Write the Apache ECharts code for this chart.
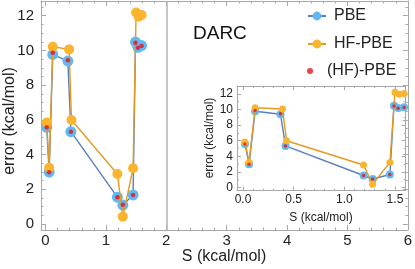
<!DOCTYPE html>
<html><head><meta charset="utf-8">
<script src="https://cdn.jsdelivr.net/npm/echarts@6/dist/echarts.min.js"></script>
<style>html,body{margin:0;padding:0;background:#fff}#c{width:415px;height:269px}</style>
</head><body><div id="c"></div>
<script>
// ---- data ----
const S_PBE  = [0.02, 0.06, 0.12, 0.37, 0.42, 1.19, 1.28, 1.45, 1.49, 1.53, 1.59];
const errPBE = [5.57, 2.98, 9.77, 9.39, 5.32, 1.54, 1.09, 1.67, 10.48, 10.18, 10.28];
const S_HF   = [0.02, 0.06, 0.12, 0.39, 0.43, 1.19, 1.28, 1.45, 1.50, 1.54, 1.59];
const errHF  = [5.84, 3.24, 10.21, 10.06, 5.99, 2.88, 0.42, 3.21, 12.19, 11.94, 12.04];
const S_HFd  = [0.02, 0.06, 0.12, 0.37, 0.42, 1.19, 1.28, 1.45, 1.49, 1.53, 1.59];
const errHFd = [5.57, 2.98, 9.87, 9.44, 5.32, 1.54, 1.10, 1.67, 10.45, 10.15, 10.25];
const seriesNames = ['PBE', 'HF-PBE', '(HF)-PBE'];
const mainXTicks  = [0, 1, 2, 3, 4, 5, 6];
const mainYTicks  = [0, 2, 4, 6, 8, 10, 12];
const insetXTicks = [0, 0.5, 1, 1.5];
const insetYTicks = [0, 2, 4, 6, 8, 10, 12];
const refLineS = [2];
const titleText = 'DARC';
const xTitle = 'S (kcal/mol)';
const yTitle = 'error (kcal/mol)';

function minors(from, to, step, majors) {
  const out = [];
  const n = Math.round((to - from) / step);
  for (let i = 0; i <= n; i++) {
    const v = Math.round((from + i * step) * 1000) / 1000;
    if (!majors.some(m => Math.abs(m - v) < 1e-6)) out.push(v);
  }
  return out;
}
const FONT = '"Liberation Sans", Arial, sans-serif';
const FRAME = '#a8a8a8';

function axes(kind, gridIndex, min, max, majors, minorVals, fmt, fontSize, margin, majLen, minLen) {
  const pos = kind === 'x' ? ['bottom', 'top'] : ['left', 'right'];
  const base = { type: 'value', gridIndex, min, max, splitLine: { show: false }, silent: true };
  const res = [];
  pos.forEach((p, k) => {
    res.push(Object.assign({}, base, {
      position: p,
      axisLine: { show: true, onZero: false, lineStyle: { color: FRAME, width: 1 } },
      axisTick: { show: true, inside: true, length: majLen, customValues: majors, lineStyle: { color: FRAME } },
      axisLabel: k === 0 ? { show: true, customValues: majors, formatter: fmt, fontSize, color: '#222', fontFamily: FONT, margin } : { show: false }
    }));
    res.push(Object.assign({}, base, {
      position: p,
      axisLine: { show: false, onZero: false },
      axisTick: { show: true, inside: true, length: minLen, customValues: minorVals, lineStyle: { color: FRAME } },
      axisLabel: { show: false }
    }));
  });
  return res;
}

const xAxes = [].concat(
  axes('x', 0, -0.075, 6, mainXTicks, minors(0, 6, 0.2, mainXTicks), v => String(v), 15, 3, 5, 2.5),
  axes('x', 1, -0.059, 1.606, insetXTicks, minors(0, 1.6, 0.1, insetXTicks), v => v.toFixed(1), 12, 3, 4, 2)
);
const yAxes = [].concat(
  axes('y', 0, -0.35, 12.85, mainYTicks, minors(0, 12.5, 0.5, mainYTicks), v => String(v), 15, 7, 5, 2.5),
  axes('y', 1, -0.41, 13.0, insetYTicks, minors(0, 13, 1, insetYTicks), v => String(v), 12, 4, 4, 2)
);

function zip(a, b) { return a.map((v, i) => [v, b[i]]); }

function seriesSet(xi, big, small, withRef) {
  const blue = {
    name: seriesNames[0], type: 'line', xAxisIndex: xi, yAxisIndex: xi,
    data: zip(S_PBE, errPBE), symbol: 'circle', symbolSize: big + 1, showSymbol: true,
    itemStyle: { color: '#62b9f2' }, lineStyle: { color: '#5b7fbd', width: 1.4 }, z: 3
  };
  if (withRef) {
    blue.markLine = {
      silent: true, symbol: ['none', 'none'], label: { show: false },
      lineStyle: { color: '#b4b4b4', width: 1.5, type: 'solid' },
      data: refLineS.map(v => ({ xAxis: v }))
    };
  }
  return [
    blue,
    {
      name: seriesNames[1], type: 'line', xAxisIndex: xi, yAxisIndex: xi,
      data: zip(S_HF, errHF), symbol: 'circle', symbolSize: big, showSymbol: true,
      itemStyle: { color: '#fbb42e' }, lineStyle: { color: '#e39a22', width: 1.4 }, z: 4
    },
    {
      name: seriesNames[2], type: 'scatter', xAxisIndex: xi, yAxisIndex: xi,
      data: zip(S_HFd, errHFd), symbol: 'circle', symbolSize: small,
      itemStyle: { color: '#e8121c' }, z: 5
    }
  ];
}

const chart = echarts.init(document.getElementById('c'), null, { renderer: 'canvas' });
chart.setOption({
  animation: false,
  backgroundColor: '#fff',
  grid: [
    { left: 41, top: 1, width: 367, height: 229, containLabel: false },
    { left: 237, top: 86, width: 168.7, height: 104.7, show: true, backgroundColor: '#fff', borderWidth: 0, containLabel: false }
  ],
  xAxis: xAxes,
  yAxis: yAxes,
  legend: [
    { data: [seriesNames[0], seriesNames[1]], orient: 'vertical', left: 307, top: 8, padding: 0,
      itemWidth: 18, itemHeight: 11, itemGap: 12, selectedMode: false,
      textStyle: { fontSize: 16, color: '#222', fontFamily: FONT, padding: [0, 0, 0, 3] } },
    { data: [seriesNames[2]], orient: 'vertical', left: 307, top: 63, padding: 0,
      itemWidth: 18, itemHeight: 6, selectedMode: false,
      textStyle: { fontSize: 16, color: '#222', fontFamily: FONT, padding: [0, 0, 0, 3] } }
  ],
  graphic: [
    { type: 'text', x: 193, y: 34, style: { text: titleText, fontSize: 19, fontFamily: FONT, fill: '#111', align: 'left', verticalAlign: 'middle' } },
    { type: 'text', x: 10, y: 121, rotation: Math.PI / 2, style: { text: yTitle, fontSize: 16, fontFamily: FONT, fill: '#222', align: 'center', verticalAlign: 'middle' } },
    { type: 'text', x: 224, y: 257, style: { text: xTitle, fontSize: 16, fontFamily: FONT, fill: '#222', align: 'center', verticalAlign: 'middle' } },
    { type: 'text', x: 210, y: 138, rotation: Math.PI / 2, style: { text: yTitle, fontSize: 12, fontFamily: FONT, fill: '#222', align: 'center', verticalAlign: 'middle' } },
    { type: 'text', x: 321, y: 218, style: { text: xTitle, fontSize: 12, fontFamily: FONT, fill: '#222', align: 'center', verticalAlign: 'middle' } }
  ],
  series: [].concat(seriesSet(0, 10, 4.5, true), seriesSet(4, 7, 3.5, false))
});
</script></body></html>
